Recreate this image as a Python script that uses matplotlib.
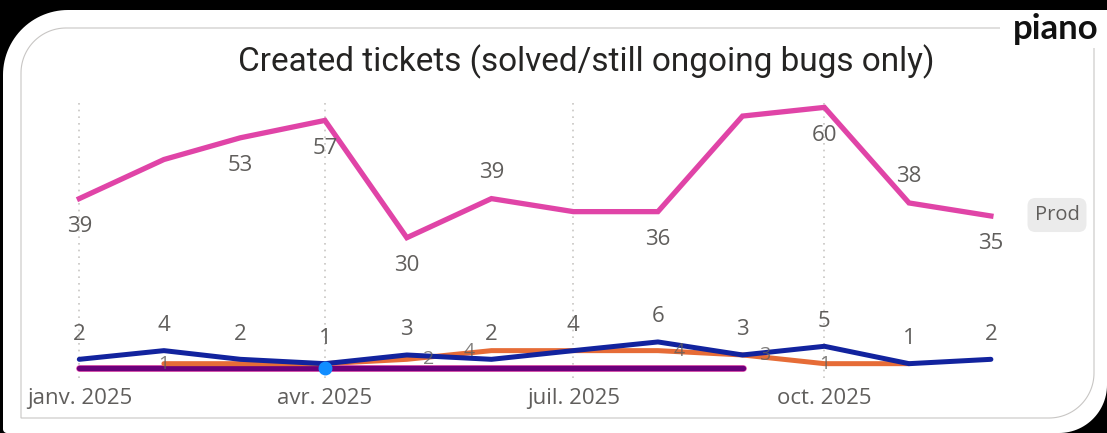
import numpy as np
import pandas as pd
import matplotlib
matplotlib.use('Agg')
import matplotlib.pyplot as plt
from matplotlib.path import Path
from matplotlib.patches import PathPatch, Rectangle

W, H = 1107, 433

months = pd.date_range('2025-01-01', periods=12, freq='MS')
prod = [39, 48, 53, 57, 30, 39, 36, 36, 58, 60, 38, 35]
prod_lab = ['below', None, 'below', 'below', 'below', 'above', None, 'below', None, 'below', 'above', 'below']
navy = [2, 4, 2, 1, 3, 2, 4, 6, 3, 5, 1, 2]
orange = [np.nan, 1, 1, 1, 2, 4, 4, 4, 3, 1, 1, np.nan]
orange_shown = [False, True, False, False, True, True, False, True, True, True, False, False]
purple = [0, 0, 0, 0, 0, 0, 0, 0, 0, np.nan, np.nan, np.nan]
single_month = pd.Timestamp('2025-04-01')
single_val = 0
tick_dates = pd.to_datetime(['2025-01-01', '2025-04-01', '2025-07-01', '2025-10-01'])
tick_labels = ['janv. 2025', 'avr. 2025', 'juil. 2025', 'oct. 2025']

GREY = '#605E5C'
FONT = ['Open Sans', 'DejaVu Sans']


def rounded(x0, y0, x1, y1, tl, tr, br, bl):
    # pixel coords, y measured from the top
    yt, yb = H - y0, H - y1
    pts = []
    for (cx, cy, r, a0, a1) in [(x0 + tl, yt - tl, tl, 180, 90),
                                (x1 - tr, yt - tr, tr, 90, 0),
                                (x1 - br, yb + br, br, 0, -90),
                                (x0 + bl, yb + bl, bl, -90, -180)]:
        a = np.radians(np.linspace(a0, a1, 30))
        pts += list(zip(cx + r * np.cos(a), cy + r * np.sin(a)))
    pts.append(pts[0])
    pts = np.array(pts) / [W, H]
    return Path(pts)


fig = plt.figure(figsize=(W / 100, H / 100), dpi=100, facecolor='black')

fig.add_artist(PathPatch(rounded(3, 10, 1107, 433, 65, 0, 48, 4), zorder=-3,
                         transform=fig.transFigure, facecolor='white', edgecolor='none'))
fig.add_artist(PathPatch(rounded(21, 28, 1094, 418, 45, 0, 45, 0), zorder=-2,
                         transform=fig.transFigure, facecolor='none', edgecolor='#C8C6C4', lw=0.8))
fig.add_artist(Rectangle((1000 / W, 1 - 48 / H), 107 / W, 37 / H, zorder=-1,
                         transform=fig.transFigure, facecolor='white', edgecolor='none'))

ax = fig.add_axes([22 / W, (H - 378) / H, (1010 - 22) / W, 278 / H])
ax.set_facecolor('none')

ax.plot(months, purple, color='#E044A7', lw=4.8, solid_capstyle='round', zorder=2)
ax.plot(months, purple, color='#6B007B', lw=3.8, solid_capstyle='round', zorder=3)
ax.plot(months, orange, color='#E66C37', lw=3.6, solid_capstyle='round', zorder=4)
ax.plot(months, navy, color='#12239E', lw=3.6, solid_capstyle='round', zorder=5)
ax.plot([single_month], [single_val], 'o', color='#118DFF', ms=9, zorder=6)
ax.plot(months, prod, color='#E044A7', lw=3.8, solid_joinstyle='miter', zorder=5)

for d, v, pos in zip(months, prod, prod_lab):
    if pos is None:
        continue
    off = -20 if pos == 'below' else 19
    ax.annotate(str(v), (d, v), xytext=(0, off), textcoords='offset points',
                ha='center', va='center', fontsize=16, color=GREY, family=FONT, zorder=7)

for d, v in zip(months, navy):
    ax.annotate(str(v), (d, v), xytext=(0, 18), textcoords='offset points',
                ha='center', va='center', fontsize=16, color=GREY, family=FONT, zorder=7)

# the small orange labels sit beside their points in the original
orange_dx = {4: 16, 5: -16, 7: 15, 8: 16}
for i, (d, v, s) in enumerate(zip(months, orange, orange_shown)):
    if s:
        ax.annotate(str(int(v)), (d, v), xytext=(orange_dx.get(i, 0), 0), textcoords='offset points',
                    ha='center', va='center', fontsize=14, color=GREY, family=FONT,
                    alpha=0.8, zorder=7)

ax.set_xlim(pd.Timestamp('2024-12-11'), pd.Timestamp('2025-12-08'))
ax.set_ylim(-2.3, 61.7)
ax.set_xticks(tick_dates)
ax.set_xticklabels(tick_labels, fontsize=16, color=GREY, family=FONT)
ax.tick_params(axis='x', length=0, pad=7)
ax.set_yticks([])
ax.grid(axis='x', color='#C8C6C4', linestyle=(0, (1, 3)), lw=1.2)
for s in ax.spines.values():
    s.set_visible(False)

fig.text(586 / W, 1 - 62 / H, 'Created tickets (solved/still ongoing bugs only)',
         ha='center', va='center', fontsize=24, color='#252423',
         family=['Liberation Sans Narrow', 'Roboto', 'DejaVu Sans'])

fig.text(1056 / W, 1 - 29 / H, 'piano', ha='center', va='center', fontsize=25,
         fontweight='bold', color='#111111', family=['Lato', 'DejaVu Sans'])

fig.text(1057 / W, 1 - 215 / H, 'Prod', ha='center', va='center', fontsize=14.5,
         color=GREY, family=FONT,
         bbox=dict(boxstyle='round,pad=0.35,rounding_size=0.4', facecolor='#EBEBEB', edgecolor='none'))

fig.savefig('out.png', dpi=100, facecolor='black')
